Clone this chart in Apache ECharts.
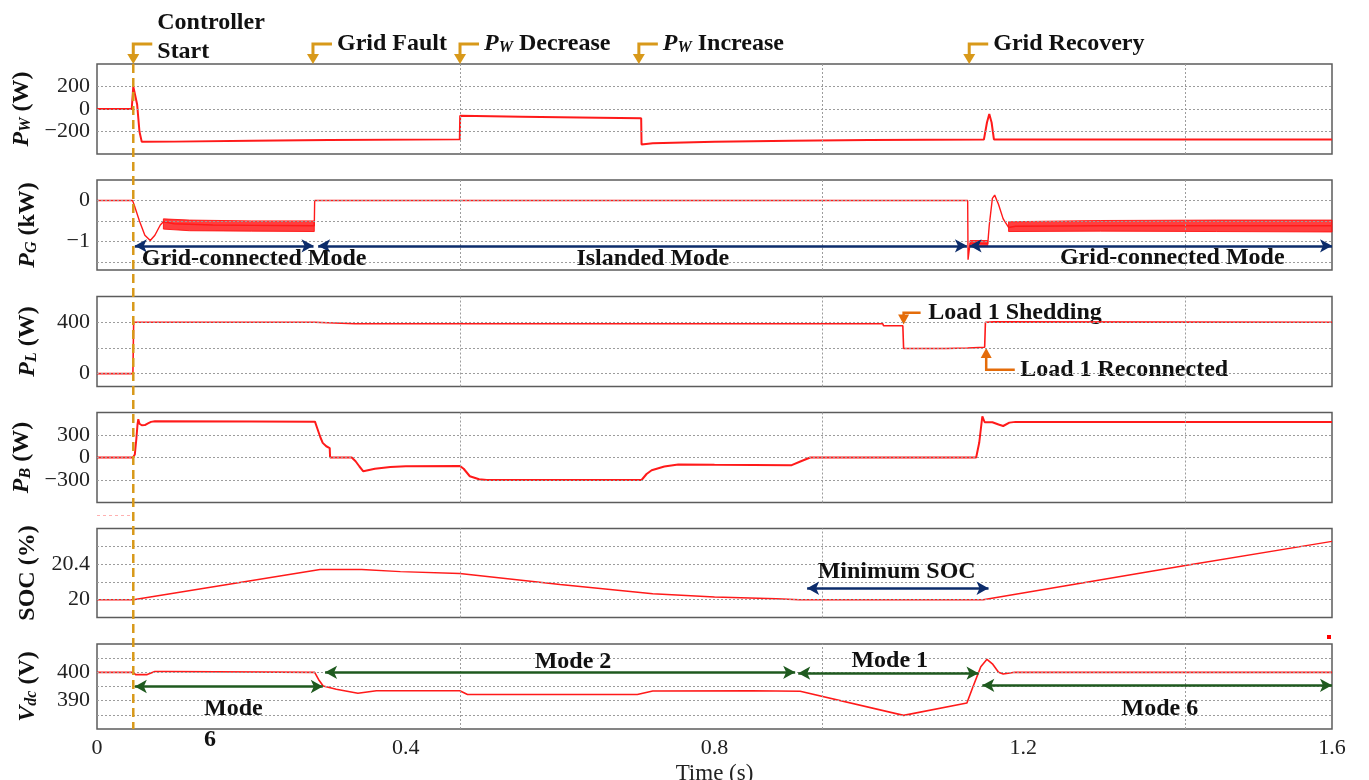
<!DOCTYPE html>
<html>
<head>
<meta charset="utf-8">
<script src="https://cdn.jsdelivr.net/npm/echarts@6/dist/echarts.min.js"></script>
<style>
  html, body { margin: 0; padding: 0; background: #ffffff; }
  #chart { width: 1369px; height: 780px; }
</style>
</head>
<body>
<div id="chart"></div>
<script>
// ---------------- Signals: [time (s), value] ----------------
const pwPoints = [[0,0],[0.045,0],[0.047,200],[0.049,185],[0.052,40],[0.055,-200],[0.058,-292],[0.10,-290],[0.20,-282],[0.30,-276],[0.4700,-270],[0.4705,-60],[0.55,-68],[0.65,-78],[0.7050,-83],[0.7055,-315],[0.72,-305],[0.80,-292],[0.90,-282],[1.00,-276],[1.149,-272],[1.153,-120],[1.156,-44],[1.159,-120],[1.162,-270],[1.6,-270]];

const pgPoints = [[0,0],[0.046,0],[0.048,-0.1],[0.055,-0.5],[0.062,-0.85],[0.069,-0.98],[0.075,-0.85],[0.082,-0.6],[0.086,-0.52],[0.10,-0.57],[0.15,-0.6],[0.20,-0.61],[0.2815,-0.62],[0.282,0],[1.128,0],[1.1285,-1.45],[1.131,-1.05],[1.14,-1.05],[1.154,-1.06],[1.156,-0.6],[1.160,0.05],[1.163,0.13],[1.168,-0.1],[1.174,-0.45],[1.181,-0.66],[1.19,-0.63],[1.3,-0.62],[1.6,-0.62]];
// envelope of the switching ripple on P_G: [time, lower, upper]
const pgRippleA = [[0.086,-0.70,-0.45],[0.12,-0.74,-0.48],[0.20,-0.75,-0.50],[0.2815,-0.76,-0.50]];
const pgRippleB = [[1.131,-1.12,-0.98],[1.154,-1.12,-0.98]];
const pgRippleC = [[1.181,-0.76,-0.52],[1.30,-0.75,-0.49],[1.45,-0.76,-0.48],[1.6,-0.77,-0.48]];

const plPoints = [[0,0],[0.0465,0],[0.0475,400],[0.282,400],[0.284,388],[0.334,388],[0.336,383],[0.338,388],[1.018,388],[1.019,372],[1.044,372],[1.045,195],[1.10,196],[1.128,200],[1.13,204],[1.150,205],[1.151,400],[1.152,403],[1.162,403],[1.163,400],[1.6,400]];

const pbPoints = [[0,0],[0.0465,0],[0.049,40],[0.051,250],[0.0525,440],[0.0535,510],[0.055,450],[0.058,430],[0.062,432],[0.066,455],[0.07,475],[0.075,482],[0.2,480],[0.2824,478],[0.285,400],[0.289,280],[0.2924,195],[0.297,150],[0.3015,125],[0.302,0],[0.33,0],[0.335,-50],[0.34,-120],[0.345,-184],[0.36,-150],[0.38,-128],[0.40,-118],[0.47,-112],[0.475,-150],[0.483,-250],[0.495,-290],[0.505,-300],[0.7055,-300],[0.712,-220],[0.7186,-170],[0.735,-120],[0.753,-92],[0.80,-96],[0.90,-102],[0.912,-50],[0.924,0],[1.139,0],[1.143,200],[1.147,550],[1.150,470],[1.16,470],[1.168,440],[1.174,420],[1.182,465],[1.19,475],[1.6,475]];

const socPoints = [[0,20],[0.047,20],[0.289,20.34],[0.343,20.34],[0.393,20.315],[0.47,20.295],[0.60,20.17],[0.72,20.067],[0.80,20.03],[0.88,20.01],[0.91,20.0],[1.148,20.0],[1.41,20.385],[1.6,20.655]];

const vdcPoints = [[0,400],[0.047,400],[0.05,399.2],[0.065,399.2],[0.075,400.3],[0.09,400.3],[0.092,400],[0.282,400],[0.287,397.5],[0.293,395.2],[0.31,394],[0.338,392.6],[0.362,393.5],[0.47,393.5],[0.48,392.2],[0.70,392.2],[0.72,393.4],[0.848,393.5],[0.85,393.3],[0.911,393.3],[1.045,384.8],[1.127,389.2],[1.135,395],[1.145,402],[1.153,404.6],[1.16,403],[1.168,400],[1.174,399.4],[1.189,400],[1.6,400]];

// ---------------- Axes ----------------
const timeTicks = [0, 0.4, 0.8, 1.2, 1.6];
const timeGrid = [0.4705, 0.941, 1.4115];
const yRanges = [[-400,400,200],[-1.7,0.5,0.1],[-100,600,100],[-600,600,300],[19.8,20.8,0.2],[380,410,5]];
const yTickLabels = [[-200,0,200],[-1,0],[0,400],[-300,0,300],[20,20.4],[390,400]];
const yGridLines = [[-200,0,200],[-1.5,-1,-0.5,0],[0,200,400],[-300,0,300],[20,20.2,20.4,20.6],[385,390,395,400,405]];

// ---------------- Event annotations ----------------
const topEvents = [
  {t: 0.047, text: 'Controller\nStart'},
  {t: 0.2798, text: 'Grid Fault'},
  {t: 0.4703, text: '{p|P}{s|W}{t| Decrease}'},
  {t: 0.702, text: '{p|P}{s|W}{t| Increase}'},
  {t: 1.130, text: 'Grid Recovery'}
];
// mode arrows: [from, to, level]
const gridModeArrows = [[0.049,0.2805,-1.11],[0.2865,1.127,-1.11],[1.1305,1.6,-1.11]];
const gridModeTexts = [['Grid-connected Mode',0.058,-1.43,'left'],['Islanded Mode',0.72,-1.43,'center'],['Grid-connected Mode',1.2475,-1.39,'left']];
const socArrows = [[0.92,1.155,20.129]];
const socTexts = [['Minimum SOC',1.036,20.315,'center']];
const vdcArrows = [[0.049,0.2925,395],[0.2955,0.9045,400],[0.9085,1.142,399.7],[1.147,1.6,395.4]];
const vdcTexts = [['Mode 2',0.6167,403.8,'center'],['Mode 1',1.027,403.9,'center'],['Mode 6',1.377,387.2,'center']];

const RED = '#ff1a1a';
const GOLD = '#d8991a';
const ORANGE = '#e46c0a';
const NAVY = '#0c2c6b';
const GREEN = '#1f5a1f';
const SERIF = '"Liberation Serif", "Times New Roman", serif';

const tops = [64, 180, 296.5, 412.5, 528.5, 644];
const heights = [90, 90, 90, 90, 89, 85];
const GL = 97, GW = 1235;

const yNames = [
  '{p|P}{s|W}{u| (W)}',
  '{p|P}{s|G}{u| (kW)}',
  '{p|P}{s|L}{u| (W)}',
  '{p|P}{s|B}{u| (W)}',
  '{u|SOC (%)}',
  '{p|V}{s|dc}{u| (V)}'
];
const nameRich = {
  p: {fontFamily: SERIF, fontSize: 24, fontWeight: 'bold', fontStyle: 'italic', color: '#111', lineHeight: 24, verticalAlign: 'top'},
  s: {fontFamily: SERIF, fontSize: 16, fontWeight: 'bold', fontStyle: 'italic', color: '#111', lineHeight: 16, padding: [12, 0, 0, 0], verticalAlign: 'bottom'},
  u: {fontFamily: SERIF, fontSize: 24, fontWeight: 'bold', color: '#111', lineHeight: 24, verticalAlign: 'top'}
};

function fmtNum(v) {
  const s = String(Math.round(v * 1000) / 1000);
  return s.startsWith('-') ? '\u2212' + s.slice(1) : s;
}

const grid = tops.map((t, i) => ({
  left: GL, width: GW, top: t, height: heights[i],
  show: true, borderColor: '#5c5c5c', borderWidth: 1.5, backgroundColor: 'transparent',
  containLabel: false, outerBoundsMode: 'none'
}));

const xAxis = tops.map((t, i) => ({
  type: 'value', gridIndex: i, min: 0, max: 1.6, interval: 0.4,
  axisLine: {show: false}, axisTick: {show: false}, splitLine: {show: false},
  axisLabel: {show: i === 5, margin: 8, fontFamily: SERIF, fontSize: 22, color: '#222',
    formatter: v => timeTicks.some(k => Math.abs(k - v) < 1e-6) ? fmtNum(v) : ''},
  name: i === 5 ? 'Time (s)' : '', nameLocation: 'middle', nameGap: 33,
  nameTextStyle: {fontFamily: SERIF, fontSize: 23, color: '#222'}
}));

const yAxis = yRanges.map((r, i) => ({
  type: 'value', gridIndex: i, min: r[0], max: r[1], interval: r[2],
  axisLine: {show: false}, axisTick: {show: false}, splitLine: {show: false},
  axisLabel: {margin: 7, fontFamily: SERIF, fontSize: 22, color: '#222',
    showMinLabel: true, showMaxLabel: true,
    formatter: v => yTickLabels[i].some(k => Math.abs(k - v) < 1e-6) ? fmtNum(v) : ''},
  name: yNames[i], nameLocation: 'middle', nameRotate: 90, nameGap: 57,
  nameTextStyle: {rich: nameRich}
}));

const series = [];
// dotted reference grid in every panel
yGridLines.forEach((lines, i) => {
  series.push({
    type: 'line', xAxisIndex: i, yAxisIndex: i, data: [[0, yRanges[i][0]]], symbol: 'none',
    lineStyle: {opacity: 0}, silent: true, animation: false, z: 1,
    markLine: {
      silent: true, symbol: ['none', 'none'], animation: false, label: {show: false},
      lineStyle: {color: '#9c9c9c', width: 1, type: [2, 2]},
      emphasis: {disabled: true},
      data: lines.map(v => ({yAxis: v})).concat(timeGrid.map(v => ({xAxis: v})))
    }
  });
});

const signals = [pwPoints, pgPoints, plPoints, pbPoints, socPoints, vdcPoints];
const widths = [2, 1.4, 1.6, 2, 1.4, 1.6];
signals.forEach((pts, i) => {
  series.push({
    type: 'line', xAxisIndex: i, yAxisIndex: i, data: pts, symbol: 'none', showSymbol: false,
    lineStyle: {color: RED, width: widths[i]}, animation: false, silent: true, z: 3
  });
});

// ripple envelopes on P_G
[pgRippleA, pgRippleB, pgRippleC].forEach(env => {
  series.push({
    type: 'custom', xAxisIndex: 1, yAxisIndex: 1, data: [0], silent: true, animation: false, z: 3,
    renderItem: (params, api) => {
      const upper = env.map(p => api.coord([p[0], p[2]]));
      const lower = env.slice().reverse().map(p => api.coord([p[0], p[1]]));
      return {type: 'polygon', shape: {points: upper.concat(lower)},
        style: {fill: 'rgba(255,20,20,0.82)', stroke: 'rgba(255,20,20,0.9)', lineWidth: 1}};
    }
  });
});

function arrowSeries(idx, arrows, color) {
  return {
    type: 'line', xAxisIndex: idx, yAxisIndex: idx, data: [[0, yRanges[idx][0]]], symbol: 'none',
    lineStyle: {opacity: 0}, silent: true, animation: false, z: 5,
    markLine: {
      silent: true, animation: false, symbol: ['arrow', 'arrow'], symbolSize: [10, 12],
      label: {show: false}, emphasis: {disabled: true},
      lineStyle: {color: color, width: 2.5, type: 'solid'},
      itemStyle: {color: color},
      data: arrows.map(a => [{coord: [a[0], a[2]]}, {coord: [a[1], a[2]]}])
    }
  };
}
series.push(arrowSeries(1, gridModeArrows, NAVY));
series.push(arrowSeries(4, socArrows, NAVY));
series.push(arrowSeries(5, vdcArrows, GREEN));

const chart = echarts.init(document.getElementById('chart'), null, {renderer: 'canvas'});
chart.setOption({
  animation: false,
  backgroundColor: '#ffffff',
  grid, xAxis, yAxis, series
});

// ---------------- Pixel-space call-outs ----------------
const toPx = (gi, t, v) => chart.convertToPixel({gridIndex: gi}, [t, v]);
const boldText = {fontFamily: SERIF, fontSize: 24, fontWeight: 'bold', fill: '#111'};
const eventRich = {
  p: {fontFamily: SERIF, fontSize: 24, fontWeight: 'bold', fontStyle: 'italic', lineHeight: 24, verticalAlign: 'top', color: '#111'},
  s: {fontFamily: SERIF, fontSize: 16, fontWeight: 'bold', fontStyle: 'italic', lineHeight: 16, padding: [12, 0, 0, 0], verticalAlign: 'bottom', color: '#111'},
  t: {fontFamily: SERIF, fontSize: 24, fontWeight: 'bold', lineHeight: 24, verticalAlign: 'top', color: '#111'}
};
const graphics = [];

const panelTop = tops[0];
topEvents.forEach((ev, k) => {
  const x = toPx(0, ev.t, 0)[0];
  const yBar = 44;
  graphics.push({type: 'polyline', silent: true, shape: {points: [[x + 19, yBar], [x, yBar], [x, panelTop - 8]]},
    style: {stroke: GOLD, lineWidth: 3, fill: null}});
  graphics.push({type: 'polygon', silent: true, shape: {points: [[x - 6, panelTop - 10], [x + 6, panelTop - 10], [x, panelTop]]},
    style: {fill: GOLD}});
  const multi = ev.text.indexOf('\n') >= 0;
  graphics.push({type: 'text', silent: true, x: x + 24, y: multi ? 37.5 : yBar,
    style: Object.assign({}, boldText, {text: ev.text, align: 'left', verticalAlign: 'middle',
      lineHeight: 29, rich: eventRich})});
});
// dashed start marker through all panels
(function () {
  const x = toPx(0, topEvents[0].t, 0)[0];
  graphics.push({type: 'line', silent: true, shape: {x1: x, y1: panelTop, x2: x, y2: tops[5] + heights[5]},
    style: {stroke: GOLD, lineWidth: 2.5, lineDash: [9, 5]}, z: 10});
})();

// load events on P_L
(function () {
  const a = toPx(2, 1.045, 473);
  const tip = toPx(2, 1.045, 382);
  graphics.push({type: 'polyline', silent: true, shape: {points: [[a[0] + 17, a[1]], [a[0], a[1]], [a[0], tip[1] - 8]]},
    style: {stroke: ORANGE, lineWidth: 2.5, fill: null}});
  graphics.push({type: 'polygon', silent: true, shape: {points: [[a[0] - 5.5, tip[1] - 10], [a[0] + 5.5, tip[1] - 10], [a[0], tip[1]]]},
    style: {fill: ORANGE}});
  const tx = toPx(2, 1.077, 473);
  graphics.push({type: 'text', silent: true, x: tx[0], y: tx[1],
    style: Object.assign({}, boldText, {text: 'Load 1 Shedding', align: 'left', verticalAlign: 'middle'})});

  const up = toPx(2, 1.152, 200);
  const base = toPx(2, 1.152, 30);
  const end = toPx(2, 1.189, 30);
  graphics.push({type: 'polyline', silent: true, shape: {points: [[end[0], base[1]], [base[0], base[1]], [base[0], up[1] + 8]]},
    style: {stroke: ORANGE, lineWidth: 2.5, fill: null}});
  graphics.push({type: 'polygon', silent: true, shape: {points: [[up[0] - 5.5, up[1] + 10], [up[0] + 5.5, up[1] + 10], [up[0], up[1]]]},
    style: {fill: ORANGE}});
  const t2 = toPx(2, 1.196, 30);
  graphics.push({type: 'text', silent: true, x: t2[0], y: t2[1],
    style: Object.assign({}, boldText, {text: 'Load 1 Reconnected', align: 'left', verticalAlign: 'middle'})});
})();

function panelTexts(gi, list) {
  list.forEach(item => {
    const p = toPx(gi, item[1], item[2]);
    graphics.push({type: 'text', silent: true, x: p[0], y: p[1], z: 20,
      style: Object.assign({}, boldText, {text: item[0], align: item[3], verticalAlign: 'middle'})});
  });
}
panelTexts(1, gridModeTexts);
panelTexts(4, socTexts);
panelTexts(5, vdcTexts);
// wrapped "Mode 6" label of the first charging interval
(function () {
  const p = toPx(5, 0.1386, 387.1);
  graphics.push({type: 'text', silent: true, x: p[0], y: p[1] - 15.5,
    style: Object.assign({}, boldText, {text: 'Mode\n6', align: 'left', verticalAlign: 'top', lineHeight: 31})});
})();
// small red marks left between panels 4 and 5, and above the last panel
graphics.push({type: 'line', silent: true, shape: {x1: GL, y1: tops[4] - 13, x2: toPx(0, topEvents[0].t, 0)[0] - 3, y2: tops[4] - 13},
  style: {stroke: 'rgba(255,80,80,0.45)', lineWidth: 1, lineDash: [3, 3]}});
graphics.push({type: 'rect', silent: true, shape: {x: GL + GW - 5, y: tops[5] - 9, width: 4, height: 4}, style: {fill: '#ff0000'}});

chart.setOption({graphic: graphics});
</script>
</body>
</html>
